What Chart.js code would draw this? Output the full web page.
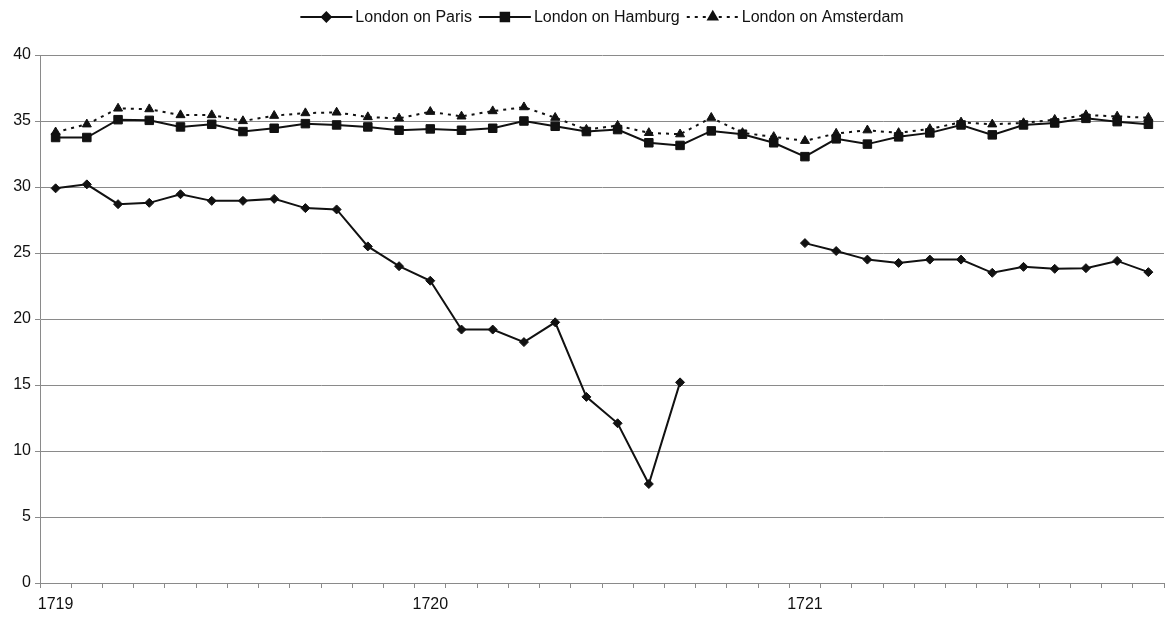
<!DOCTYPE html>
<html>
<head>
<meta charset="utf-8">
<script src="https://cdn.jsdelivr.net/npm/chart.js@4"></script>
<style>
  html, body { margin: 0; padding: 0; background: #fff; }
  #wrap { width: 1171px; height: 617px; }
</style>
</head>
<body>
<div id="wrap"><canvas id="rates"></canvas></div>
<script>
// monthly observations, Jan 1719 - Dec 1721
const categories = [
  '1719', '', '', '', '', '', '', '', '', '', '', '',
  '1720', '', '', '', '', '', '', '', '', '', '', '',
  '1721', '', '', '', '', '', '', '', '', '', '', ''
];

const paris = [
  29.9, 30.2, 28.7, 28.8, 29.45, 28.95, 28.95, 29.1, 28.4, 28.3, 25.5, 24.0,
  22.9, 19.2, 19.2, 18.25, 19.75, 14.1, 12.1, 7.5, 15.2, null, null, null,
  25.75, 25.15, 24.5, 24.25, 24.5, 24.5, 23.5, 23.95, 23.8, 23.85, 24.4, 23.55
];

const hamburg = [
  33.75, 33.75, 35.1, 35.05, 34.55, 34.75, 34.2, 34.45, 34.8, 34.7, 34.55, 34.3,
  34.4, 34.3, 34.45, 35.0, 34.6, 34.2, 34.35, 33.35, 33.15, 34.25, 34.0, 33.35,
  32.3, 33.65, 33.25, 33.8, 34.1, 34.7, 33.95, 34.7, 34.85, 35.2, 34.95, 34.75
];

const amsterdam = [
  34.15, 34.75, 35.95, 35.9, 35.45, 35.45, 35.0, 35.4, 35.6, 35.65, 35.3, 35.2,
  35.7, 35.35, 35.75, 36.05, 35.25, 34.35, 34.65, 34.1, 34.0, 35.25, 34.1, 33.8,
  33.5, 34.05, 34.3, 34.1, 34.4, 34.9, 34.75, 34.85, 35.1, 35.45, 35.35, 35.25
];

const seriesNames = ['London on Paris', 'London on Hamburg', 'London on Amsterdam'];

const ink = '#111';
const gridGrey = '#8a8a8a';
const fontFamily = '"Liberation Sans", Arial, Helvetica, sans-serif';

// legend: short line with the marker on it, then the label
const lineLegend = {
  id: 'lineLegend',
  afterDraw(chart) {
    const ctx = chart.ctx;
    const lineLen = 52, textGap = 3, itemGap = 7, y = 17;
    ctx.save();
    ctx.font = '16px ' + fontFamily;
    const items = chart.data.datasets.map(ds => ({
      ds, w: lineLen + textGap + ctx.measureText(ds.label).width
    }));
    const total = items.reduce((s, it) => s + it.w, 0) + itemGap * (items.length - 1);
    const area = chart.chartArea;
    let x = (area.left + area.right) / 2 - total / 2;
    items.forEach(({ds, w}) => {
      ctx.strokeStyle = ink;
      ctx.lineWidth = ds.borderWidth;
      ctx.setLineDash(ds.borderDash || []);
      ctx.beginPath();
      ctx.moveTo(x, y);
      ctx.lineTo(x + lineLen, y);
      ctx.stroke();
      ctx.setLineDash([]);
      ctx.fillStyle = ink;
      Chart.helpers.drawPoint(ctx, {
        pointStyle: ds.pointStyle, radius: ds.pointRadius, borderWidth: 1
      }, x + lineLen / 2, y);
      ctx.fill();
      ctx.textBaseline = 'middle';
      ctx.textAlign = 'left';
      ctx.fillText(ds.label, x + lineLen + textGap, y + 1);
      x += w + itemGap;
    });
    ctx.restore();
  }
};

function series(label, data, style, radius, dash) {
  return {
    label: label,
    data: data,
    borderColor: ink,
    backgroundColor: ink,
    borderWidth: 2,
    borderDash: dash,
    pointStyle: style,
    pointRadius: radius,
    pointBorderWidth: 1,
    pointBackgroundColor: ink,
    pointBorderColor: ink,
    tension: 0,
    spanGaps: false
  };
}

new Chart(document.getElementById('rates'), {
  type: 'line',
  data: {
    labels: categories,
    datasets: [
      series(seriesNames[0], paris, 'rectRot', 4.5, []),
      series(seriesNames[1], hamburg, 'rect', 6, []),
      series(seriesNames[2], amsterdam, 'triangle', 5.2, [3, 5])
    ]
  },
  plugins: [lineLegend],
  options: {
    responsive: true,
    maintainAspectRatio: false,
    animation: false,
    layout: { padding: { top: 55, right: 6, bottom: 0, left: 0 } },
    plugins: {
      legend: { display: false },
      tooltip: { enabled: false }
    },
    scales: {
      x: {
        offset: true,
        afterFit(scale) { scale.height = 34; },
        grid: {
          offset: true,
          drawOnChartArea: false,
          drawTicks: true,
          tickLength: 5,
          color: gridGrey
        },
        border: { color: gridGrey },
        ticks: {
          autoSkip: false,
          maxRotation: 0,
          padding: 7,
          color: '#111',
          font: { family: fontFamily, size: 16 }
        }
      },
      y: {
        min: 0,
        max: 40,
        afterFit(scale) { scale.width = 40; },
        grid: { color: gridGrey, tickLength: 5 },
        border: { color: gridGrey },
        ticks: {
          stepSize: 5,
          padding: 4,
          color: '#111',
          font: { family: fontFamily, size: 16 }
        }
      }
    }
  }
});
</script>
</body>
</html>
